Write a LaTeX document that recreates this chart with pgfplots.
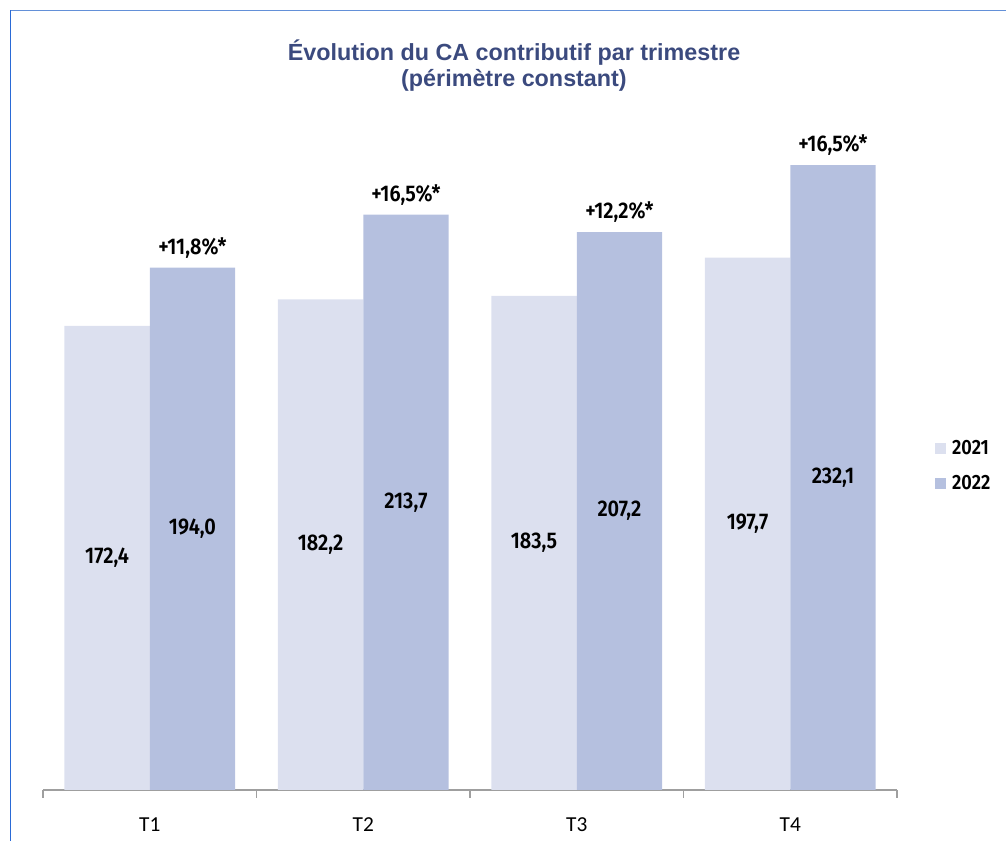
\documentclass[border=0pt]{standalone}
\usepackage{pgfplots}
\pgfplotsset{compat=1.18}
\usepackage{fontspec}
\setmainfont{Fira Sans SemiBold}[FakeStretch=0.88]
\newfontfamily\titlefont{Liberation Sans}
\newfontfamily\tickfont{Carlito}
\definecolor{c21}{HTML}{DCE0EF}
\definecolor{c22}{HTML}{B5C0DF}
\definecolor{titleblue}{HTML}{3B4A7E}
\definecolor{frameblue}{HTML}{2A6AD6}
\definecolor{frametop}{HTML}{6390D8}

\begin{document}
\begin{tikzpicture}
\path[use as bounding box] (0,0) rectangle (754.5pt,630.75pt);
% cadre bleu (gauche + haut)
\draw[frameblue, line width=1.1pt] (7.9pt,0) -- (7.9pt,622.9pt);
\draw[frametop, line width=1.1pt] (7.9pt,622.9pt) -- (754.5pt,622.9pt);
\node[align=center, font=\titlefont\bfseries\fontsize{17.5}{20}\selectfont, text=titleblue]
  at (385.5pt,581.5pt) {Évolution du CA contributif par trimestre\\(périmètre constant)};

\begin{axis}[
  at={(32.25pt,38.25pt)}, anchor=south west,
  scale only axis, width=640.5pt, height=525pt,
  ybar, bar width=0.4,
  xmin=-0.5, xmax=3.5, ymin=0, ymax=260,
  axis y line=none, axis x line*=bottom,
  x axis line style={color=gray!75, line width=0.9pt},
  xtick={0,1,2,3}, xticklabels={T1,T2,T3,T4},
  major tick length=0pt,
  minor xtick={-0.5,0.5,1.5,2.5,3.5},
  minor tick length=6pt, tick align=outside,
  minor tick style={color=gray!75, line width=0.9pt},
  xticklabel style={font=\tickfont\fontsize{16}{18}\selectfont, yshift=-17pt},
  legend style={at={(1.039,0.463)}, anchor=west, draw=none, fill=none,
    font=\fontsize{15.5}{18}\selectfont, row sep=10pt,
    nodes={inner xsep=5pt}},
  legend cell align=left,
  legend image code/.code={\path[#1, draw=none] (0pt,-4pt) rectangle (8.2pt,4.2pt);},
  /pgf/number format/.cd, fixed, fixed zerofill, precision=1, use comma, assume math mode=true,
  /pgfplots/.cd,
]
  % valeurs au milieu des barres
  \addplot[fill=c21, draw=none, bar shift=-0.2, nodes near coords,
    visualization depends on={rawy \as \rawy},
    every node near coord/.append style={font=\fontsize{17}{18}\selectfont, anchor=center,
      shift={(axis direction cs:0,-\rawy/2)}}]
    coordinates {(0,172.4) (1,182.2) (2,183.5) (3,197.7)};
  \addplot[fill=c22, draw=none, bar shift=0.2, nodes near coords,
    visualization depends on={rawy \as \rawy},
    every node near coord/.append style={font=\fontsize{17}{18}\selectfont, anchor=center,
      shift={(axis direction cs:0,-\rawy/2)}}]
    coordinates {(0,194.0) (1,213.7) (2,207.2) (3,232.1)};
  \legend{2021,2022}
  % variations au-dessus des barres 2022
  \addplot[draw=none, fill=none, bar shift=0.2, forget plot,
    point meta=explicit symbolic, nodes near coords,
    every node near coord/.append style={font=\fontsize{17}{18}\selectfont,
      anchor=south, inner sep=0pt, yshift=7pt}]
    coordinates {(0,194.0) [+11,8\%*] (1,213.7) [+16,5\%*] (2,207.2) [+12,2\%*] (3,232.1) [+16,5\%*]};
\end{axis}
\end{tikzpicture}
\end{document}
